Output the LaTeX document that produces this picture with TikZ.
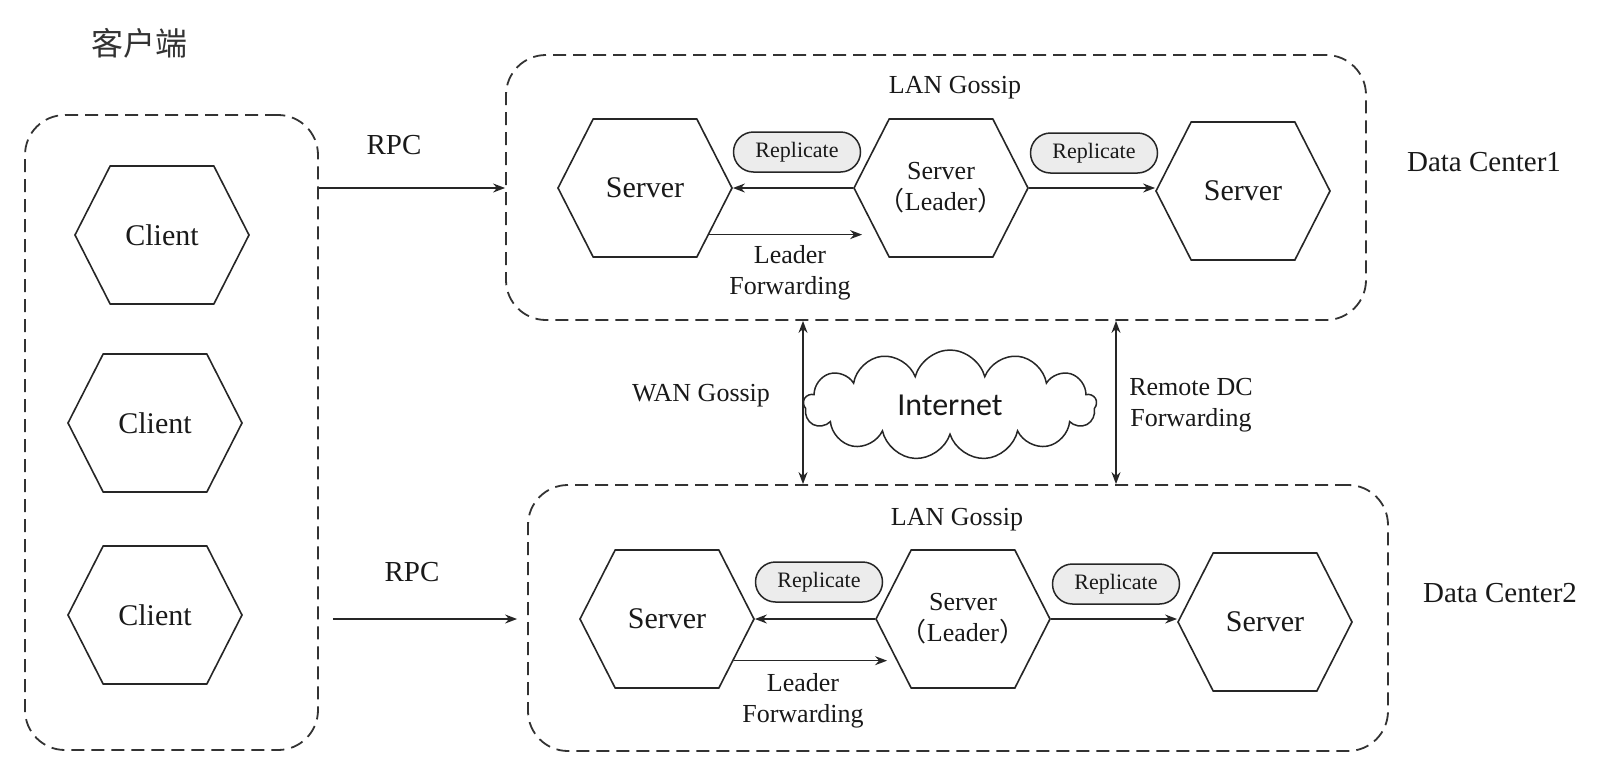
\documentclass[tikz,border=0pt]{standalone}
\usepackage{fontspec}
\setmainfont{Liberation Serif}
\newfontfamily\cjk{Noto Sans CJK SC}
\newfontfamily\cloudfont{Carlito}
\usetikzlibrary{arrows.meta,positioning,shapes.symbols,shapes.misc}
\tikzset{
group box/.style={draw=black!80, dash pattern=on 13pt off 7pt, line width=1.8pt, rounded corners=40pt},
hexa/.style={signal, signal to=east and west, signal pointer angle=126, draw=black!85, line width=1.6pt, text=black!90, inner sep=0pt, minimum width=174pt, minimum height=138pt, font=\fontsize{30}{34}\selectfont},
leader/.style={hexa, align=center, font=\fontsize{26}{31}\selectfont},
pill/.style={rounded rectangle, draw=black!85, fill=gray!15, line width=1.5pt, text=black!90, minimum width=127pt, minimum height=40pt, inner sep=0pt, font=\fontsize{22}{24}\selectfont},
arr/.style={-{Stealth[length=12pt,width=9pt]}, line width=1.5pt, draw=black!85, fill=black!85},
darr/.style={{Stealth[length=12pt,width=9pt]}-{Stealth[length=12pt,width=9pt]}, line width=1.5pt, draw=black!85, fill=black!85},
lbl/.style={align=center, text=black!90, font=\fontsize{26}{31}\selectfont},
biglbl/.style={lbl, font=\fontsize{29}{33}\selectfont},
}
\newcommand{\leadertext}{Server\\\makebox[100pt]{{\cjk （}Leader{\cjk ）}}}

\begin{document}
\begin{tikzpicture}[x=1pt, y=-1pt]
    \useasboundingbox (0,0) rectangle (1610,772);

    % clients
    \node[text=black!80, font=\cjk\fontsize{32}{36}\selectfont] (title) at (139,43) {客户端};
    \node[group box, minimum width=293pt, minimum height=635pt] (clients) at (171.5,432.5) {};
    \node[hexa] (c1) at (162,235) {Client};
    \node[hexa] (c2) at (155,423) {Client};
    \node[hexa] (c3) at (155,615) {Client};

    % data center 1
    \node[group box, minimum width=860pt, minimum height=265pt] (dc1) at (936,187.5) {};
    \node[lbl] (lan1) at (955,88) {LAN Gossip};
    \node[hexa] (a1) at (645,188) {Server};
    \node[leader] (a2) at (941,188) {\leadertext};
    \node[hexa] (a3) at (1243,191) {Server};
    \node[pill] (ra1) at (797,152) {Replicate};
    \node[pill] (ra2) at (1094,153) {Replicate};
    \node[lbl] (fa) at (790,273) {Leader\\Forwarding};
    \node[biglbl] (dcname1) at (1484,162) {Data Center1};

    % data center 2
    \node[group box, minimum width=860pt, minimum height=266pt] (dc2) at (958,618) {};
    \node[lbl] (lan2) at (957,520) {LAN Gossip};
    \node[hexa] (b1) at (667,619) {Server};
    \node[leader] (b2) at (963,619) {\leadertext};
    \node[hexa] (b3) at (1265,622) {Server};
    \node[pill] (rb1) at (819,582) {Replicate};
    \node[pill] (rb2) at (1116,584) {Replicate};
    \node[lbl] (fb) at (803,701) {Leader\\Forwarding};
    \node[biglbl] (dcname2) at (1500,593) {Data Center2};

    % rpc
    \node[biglbl] (rpc1) at (394,145) {RPC};
    \node[biglbl] (rpc2) at (412,572) {RPC};
    \draw[arr] (clients.east |- a1) -- (dc1.west |- a1);
    \draw[arr] ([xshift=14pt]clients.east |- b1) -- ([xshift=-10pt]dc2.west |- b1);

    % inside the data centers
    \draw[arr] (a2.west) -- (a1.east);
    \draw[arr] (a2.east) -- (a2.east -| a3.west);
    \draw[arr, shorten >=-9pt] (a1.-36) -- (a1.-36 -| a2.west);
    \draw[arr] (b2.west) -- (b1.east);
    \draw[arr] (b2.east) -- (b2.east -| b3.west);
    \draw[arr, shorten >=-12pt] (b1.-32) -- (b1.-32 -| b2.west);

    % between the data centers
    \coordinate (wanx) at (803,0);
    \coordinate (remx) at (1116,0);
    \node[cloud, draw=black!85, cloud puffs=13, aspect=2.7, line width=1.5pt, text=black!90,
        minimum width=293pt, minimum height=110pt, inner sep=0pt,
        font=\cloudfont\fontsize{32}{36}\selectfont] (inet) at (950,405) {Internet};
    \draw[darr] (dc1.south -| wanx) -- (dc2.north -| wanx);
    \draw[darr] (dc1.south -| remx) -- (dc2.north -| remx);
    \node[lbl] (wan) at (701,396) {WAN Gossip};
    \node[lbl] (remote) at (1191,405) {Remote DC\\Forwarding};
\end{tikzpicture}
\end{document}
